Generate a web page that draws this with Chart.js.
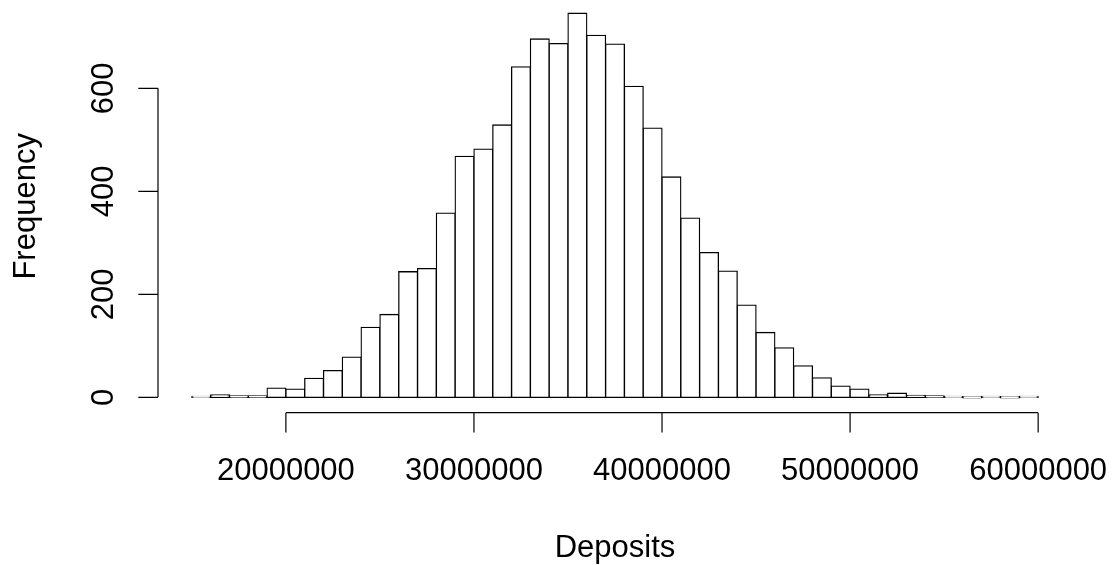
<!DOCTYPE html>
<html>
<head>
<meta charset="utf-8">
<title>Deposits histogram</title>
<script src="https://cdn.jsdelivr.net/npm/chart.js@4/dist/chart.umd.min.js"></script>
<style>
  html, body { margin: 0; padding: 0; background: #fff; }
  #wrap { width: 1113px; height: 565px; }
</style>
</head>
<body>
<div id="wrap"><canvas id="histChart" width="1113" height="565"></canvas></div>
<script>
// bin edges (1M wide) and the count in each bin
const binEdges = [
  15000000, 16000000, 17000000, 18000000, 19000000, 20000000, 21000000, 22000000,
  23000000, 24000000, 25000000, 26000000, 27000000, 28000000, 29000000, 30000000,
  31000000, 32000000, 33000000, 34000000, 35000000, 36000000, 37000000, 38000000,
  39000000, 40000000, 41000000, 42000000, 43000000, 44000000, 45000000, 46000000,
  47000000, 48000000, 49000000, 50000000, 51000000, 52000000, 53000000, 54000000,
  55000000, 56000000, 57000000, 58000000, 59000000, 60000000
];
const counts = [
  2, 5, 3, 3, 18, 16, 37, 52, 78, 136,
  161, 244, 250, 358, 468, 482, 529, 642, 696, 687,
  746, 703, 686, 604, 523, 428, 348, 281, 245, 179,
  126, 96, 61, 38, 22, 16, 5, 8, 4, 3,
  1, 0, 1, 0, 1
];
const xTicks = [20000000, 30000000, 40000000, 50000000, 60000000];
const yTicks = [0, 200, 400, 600];
const xTitle = 'Deposits';
const yTitle = 'Frequency';

const histCanvas = document.getElementById('histChart');
const labelFont = '31px "Liberation Sans", Arial, Helvetica, sans-serif';
const tickLen = 19.7;

const points = counts.map((c, i) => ({ x: (binEdges[i] + binEdges[i + 1]) / 2, y: c }));

// R-style axes: lines only span the tick range, labels drawn by hand
const baseAxes = {
  id: 'baseAxes',
  afterDraw(chart) {
    const ctx = chart.ctx;
    const xs = chart.scales.x;
    const ys = chart.scales.y;
    const area = chart.chartArea;
    ctx.save();
    ctx.strokeStyle = '#000';
    ctx.fillStyle = '#000';
    ctx.lineWidth = 1.2;
    ctx.font = labelFont;

    // x axis
    const axY = area.bottom;
    ctx.beginPath();
    ctx.moveTo(xs.getPixelForValue(xTicks[0]), axY);
    ctx.lineTo(xs.getPixelForValue(xTicks[xTicks.length - 1]), axY);
    xTicks.forEach(v => {
      const px = xs.getPixelForValue(v);
      ctx.moveTo(px, axY);
      ctx.lineTo(px, axY + tickLen);
    });
    ctx.stroke();
    ctx.textAlign = 'center';
    ctx.textBaseline = 'alphabetic';
    xTicks.forEach(v => {
      ctx.fillText(String(v), xs.getPixelForValue(v), 480);
    });
    ctx.fillText(xTitle, (area.left + area.right) / 2, 556.5);

    // y axis
    const axX = area.left;
    ctx.beginPath();
    ctx.moveTo(axX, ys.getPixelForValue(yTicks[0]));
    ctx.lineTo(axX, ys.getPixelForValue(yTicks[yTicks.length - 1]));
    yTicks.forEach(v => {
      const py = ys.getPixelForValue(v);
      ctx.moveTo(axX, py);
      ctx.lineTo(axX - tickLen, py);
    });
    ctx.stroke();
    yTicks.forEach(v => {
      ctx.save();
      ctx.translate(113, ys.getPixelForValue(v));
      ctx.rotate(-Math.PI / 2);
      ctx.fillText(String(v), 0, 0);
      ctx.restore();
    });
    ctx.save();
    ctx.translate(34.5, (area.top + area.bottom) / 2);
    ctx.rotate(-Math.PI / 2);
    ctx.fillText(yTitle, 0, 0);
    ctx.restore();

    ctx.restore();
  }
};

new Chart(histCanvas, {
  type: 'bar',
  data: {
    datasets: [{
      data: points,
      backgroundColor: '#ffffff',
      borderColor: '#000000',
      borderWidth: 1.3,
      borderSkipped: false,
      inflateAmount: 0.6,
      barPercentage: 1,
      categoryPercentage: 1,
      minBarLength: 1,
    }],
  },
  options: {
    responsive: false,
    animation: false,
    events: [],
    layout: {
      padding: { left: 158, right: 41, top: 0, bottom: 152.3 },
    },
    plugins: {
      legend: { display: false },
      tooltip: { enabled: false },
    },
    scales: {
      x: {
        type: 'linear',
        display: false,
        offset: false,
        grid: { offset: false },
        min: 13200000,
        max: 61800000,
      },
      y: {
        display: false,
        min: -29.84,
        max: 771.6,
      },
    },
  },
  plugins: [baseAxes],
});
</script>
</body>
</html>
